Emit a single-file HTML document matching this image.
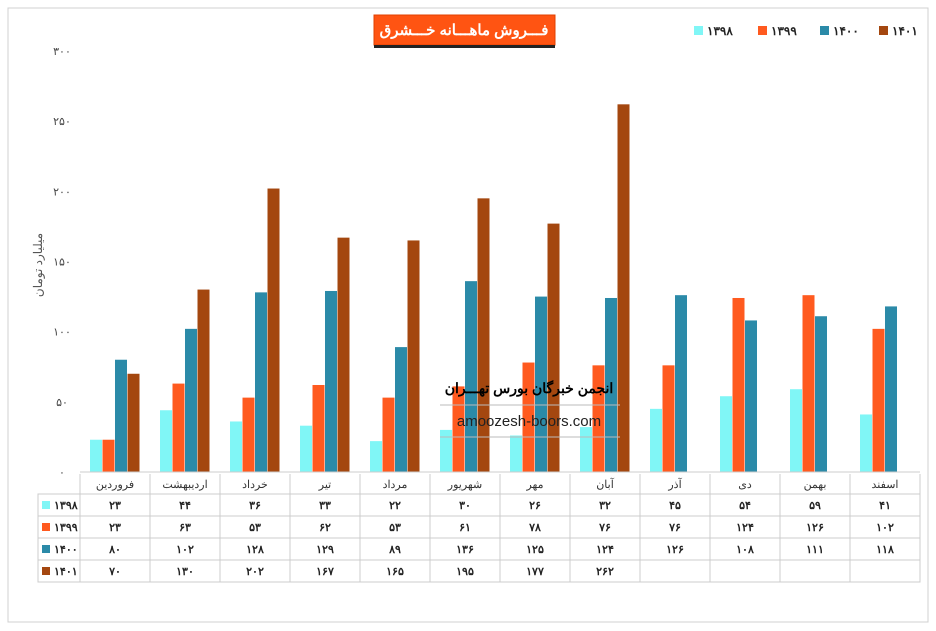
<!DOCTYPE html>
<html><head><meta charset="utf-8"><style>
body{margin:0;background:#fff;font-family:"Liberation Sans","Noto Sans CJK SC",sans-serif;}
svg{display:block}
</style></head><body>
<svg id="chart" width="936" height="631" xmlns="http://www.w3.org/2000/svg">
<rect x="8" y="8" width="920" height="614" fill="#fff" stroke="#d0d0d0"/>
<g>
<rect x="374" y="15" width="181" height="30" fill="#ff5412" stroke="#e04000"/>
<rect x="374" y="45" width="181" height="3" fill="#222"/>
<text x="464" y="35" text-anchor="middle" font-size="15" font-weight="bold" fill="#fff" direction="rtl">فـــروش  ماهـــانه  خـــشرق</text>
</g>
<g id="legend"></g>
<text transform="translate(42,265) rotate(-90)" text-anchor="middle" font-size="12" fill="#555">میلیارد تومان</text>
<g id="yticks"></g>
<g id="bars"></g>
<g id="table"></g>
<g>
<text x="529" y="393" text-anchor="middle" font-size="14" font-weight="bold" fill="#000">انجمن خبرگان بورس تهـــران</text>
<line x1="440" y1="405" x2="620" y2="405" stroke="#bbb"/>
<text x="529" y="426" text-anchor="middle" font-size="15" fill="#222">amoozesh-boors.com</text>
<line x1="440" y1="437" x2="620" y2="437" stroke="#bbb"/>
</g>
</svg>
<script>
const categories=["فروردین","اردیبهشت","خرداد","تیر","مرداد","شهریور","مهر","آبان","آذر","دی","بهمن","اسفند"];
const seriesNames=["1398","1399","1400","1401"];
const s1398=[23,44,36,33,22,30,26,32,45,54,59,41];
const s1399=[23,63,53,62,53,61,78,76,76,124,126,102];
const s1400=[80,102,128,129,89,136,125,124,126,108,111,118];
const s1401=[70,130,202,167,165,195,177,262,null,null,null,null];
const yTicks=[0,50,100,150,200,250,300];
const series=[s1398,s1399,s1400,s1401];
const colors=["#80f6f6","#ff5a1f","#2b8aa8","#a4470f"];
const NS="http://www.w3.org/2000/svg";
const fa=n=>String(n).replace(/\d/g,d=>"۰۱۲۳۴۵۶۷۸۹"[d]);
const x0=80,cw=70,y0=472,yTop=51,yMax=300;
const yS=v=>y0-(v/yMax)*(y0-yTop);
function mk(t,a,p){const e=document.createElementNS(NS,t);for(const k in a)e.setAttribute(k,a[k]);p.appendChild(e);return e;}
const yg=document.getElementById('yticks');
yTicks.forEach(t=>{const e=mk('text',{x:62,y:yS(t)+4,'text-anchor':'middle','font-size':11,fill:'#444'},yg);e.textContent=fa(t);

});
const bg=document.getElementById('bars');
series.forEach((s,si)=>s.forEach((v,ci)=>{if(v==null)return;
const x=x0+ci*cw+10+si*12.5;
const r=mk('rect',{x:x,y:yS(v),width:12,height:y0-yS(v),fill:colors[si]},bg);

}));
mk('line',{x1:x0,y1:y0,x2:x0+12*cw,y2:y0,stroke:'#ccc'},bg);
const lg=document.getElementById('legend');
const lx=[694,758,820,879];
seriesNames.forEach((n,i)=>{const g=mk('g',{},lg);


mk('rect',{x:lx[i],y:26,width:9,height:9,fill:colors[i]},g);
const t=mk('text',{x:lx[i]+13,y:35,'font-size':12,'font-weight':'bold',fill:'#222'},g);t.textContent=fa(n);});
const tg=document.getElementById('table');
const rows=[474,494,516,538,560,582];
mk('rect',{x:38,y:494,width:x0+12*cw-38,height:88,fill:'none',stroke:'#ccc'},tg);
for(let i=0;i<=12;i++)mk('line',{x1:x0+i*cw,y1:474,x2:x0+i*cw,y2:582,stroke:'#ccc'},tg);
for(let r=1;r<rows.length;r++)mk('line',{x1:38,y1:rows[r],x2:x0+12*cw,y2:rows[r],stroke:'#ccc'},tg);
categories.forEach((c,i)=>{const t=mk('text',{x:x0+i*cw+cw/2,y:488,'text-anchor':'middle','font-size':11,fill:'#333'},tg);t.textContent=c;

});
series.forEach((s,si)=>{const cy=(rows[si+1]+rows[si+2])/2;
mk('rect',{x:42,y:cy-4,width:8,height:8,fill:colors[si]},tg);
const l=mk('text',{x:54,y:cy+4,'font-size':11,'font-weight':'bold',fill:'#222'},tg);l.textContent=fa(seriesNames[si]);
s.forEach((v,ci)=>{if(v==null)return;const t=mk('text',{x:x0+ci*cw+cw/2,y:cy+4,'text-anchor':'middle','font-size':11,'font-weight':'bold',fill:'#222'},tg);t.textContent=fa(v);

});});
</script>
</body></html>
